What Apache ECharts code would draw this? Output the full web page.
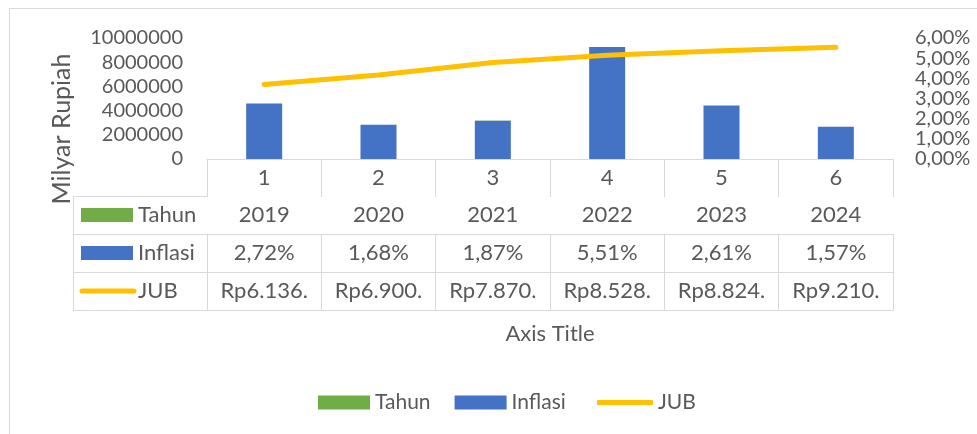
<!DOCTYPE html>
<html>
<head>
<meta charset="utf-8">
<script src="https://cdn.jsdelivr.net/npm/echarts@6/dist/echarts.min.js"></script>
<style>
  html, body { margin: 0; padding: 0; background: #fff; }
  #chart { width: 977px; height: 434px; }
</style>
</head>
<body>
<div id="chart"></div>
<script>
// data
var categories = ["1", "2", "3", "4", "5", "6"];
var tahun = [2019, 2020, 2021, 2022, 2023, 2024];
var inflasiText = ["2,72%", "1,68%", "1,87%", "5,51%", "2,61%", "1,57%"];
var jubText = ["Rp6.136.", "Rp6.900.", "Rp7.870.", "Rp8.528.", "Rp8.824.", "Rp9.210."];
var inflasiBar = [4580000, 2830000, 3170000, 9250000, 4420000, 2670000];
var jubLine = [3.70, 4.16, 4.79, 5.15, 5.37, 5.54];

var FONT = "Lato";
var TXT = "#595959";
var GRID = "#d9d9d9";
var GREEN = "#70ad47";
var BLUE = "#4472c4";
var GOLD = "#ffc000";

var chartDom = echarts.init(document.getElementById("chart"));

var rowTop = [159, 196, 234, 272, 310];
var rowNames = ["Tahun", "Inflasi", "JUB"];

function tableAxis(data, offset, len) {
  return {
    type: "category",
    gridIndex: 0,
    position: "bottom",
    offset: offset,
    data: data,
    axisLine: { show: true, lineStyle: { color: GRID, width: 1 } },
    axisTick: { show: len > 0, length: len, lineStyle: { color: GRID, width: 1 } },
    axisLabel: {
      show: data.length > 0,
      interval: 0,
      margin: len / 2,
      verticalAlign: "middle",
      color: TXT,
      fontSize: 22,
      fontFamily: FONT
    }
  };
}

// border, rotated axis name and the left column of the data table
var graphics = [
  {
    type: "rect",
    shape: { x: 9.5, y: 8.5, width: 1000, height: 500 },
    style: { fill: null, stroke: GRID, lineWidth: 1 },
    silent: true
  },
  {
    type: "text",
    x: 62, y: 129,
    rotation: Math.PI / 2,
    style: { text: "Milyar Rupiah", fill: TXT, font: "25px " + FONT, align: "center", verticalAlign: "middle" }
  },
  {
    type: "line",
    shape: { x1: 73.5, y1: rowTop[1], x2: 73.5, y2: rowTop[4] },
    style: { stroke: GRID, lineWidth: 1 }
  }
];
for (var r = 1; r <= 4; r++) {
  graphics.push({
    type: "line",
    shape: { x1: 73, y1: rowTop[r] + 0.5, x2: 207, y2: rowTop[r] + 0.5 },
    style: { stroke: GRID, lineWidth: 1 }
  });
}
var keyColors = [GREEN, BLUE, GOLD];
for (var k = 0; k < 3; k++) {
  var cy = (rowTop[k + 1] + rowTop[k + 2]) / 2;
  if (k < 2) {
    graphics.push({ type: "rect", shape: { x: 81, y: cy - 7, width: 52, height: 14 }, style: { fill: keyColors[k] } });
  } else {
    graphics.push({
      type: "line",
      shape: { x1: 82, y1: cy, x2: 134, y2: cy },
      style: { stroke: GOLD, lineWidth: 5, lineCap: "round" }
    });
  }
  graphics.push({
    type: "text",
    x: 138, y: cy,
    style: { text: rowNames[k], fill: TXT, font: "22px " + FONT, verticalAlign: "middle" }
  });
}

var legendText = { color: TXT, fontSize: 21, fontFamily: FONT };

var option = {
  animation: false,
  textStyle: { fontFamily: FONT },
  grid: { left: 207, right: 84, top: 38, bottom: 434 - 159 },
  legend: [
    {
      left: 313,
      top: 387,
      itemWidth: 52,
      itemHeight: 14,
      itemGap: 24,
      icon: "rect",
      data: ["Tahun", "Inflasi"],
      textStyle: legendText
    },
    {
      left: 592,
      top: 387,
      itemWidth: 56,
      itemHeight: 5,
      icon: "roundRect",
      data: ["JUB"],
      textStyle: legendText
    }
  ],
  xAxis: [
    tableAxis(categories, 0, 37),
    tableAxis(tahun, 37, 38),
    tableAxis(inflasiText, 75, 38),
    tableAxis(jubText, 113, 38),
    Object.assign(tableAxis([], 151, 0), {
      name: "Axis Title",
      nameLocation: "middle",
      nameGap: 13,
      nameTextStyle: { color: TXT, fontSize: 22, fontFamily: FONT }
    })
  ],
  yAxis: [
    {
      type: "value",
      min: 0,
      max: 10000000,
      interval: 2000000,
      splitLine: { show: false },
      axisLine: { show: false },
      axisTick: { show: false },
      axisLabel: {
        color: TXT, fontSize: 20, fontFamily: FONT, margin: 24,
        formatter: function (v) { return String(v); }
      }
    },
    {
      type: "value",
      position: "right",
      min: 0,
      max: 6,
      interval: 1,
      splitLine: { show: false },
      axisLine: { show: false },
      axisTick: { show: false },
      axisLabel: {
        color: TXT, fontSize: 20, fontFamily: FONT, margin: 22,
        formatter: function (v) { return v.toFixed(2).replace(".", ",") + "%"; }
      }
    }
  ],
  series: [
    {
      name: "Inflasi",
      type: "bar",
      stack: "s",
      xAxisIndex: 0,
      yAxisIndex: 0,
      barWidth: "31.5%",
      itemStyle: { color: BLUE },
      data: inflasiBar
    },
    {
      name: "Tahun",
      type: "bar",
      stack: "s",
      xAxisIndex: 0,
      yAxisIndex: 0,
      itemStyle: { color: GREEN },
      data: tahun
    },
    {
      name: "JUB",
      type: "line",
      xAxisIndex: 0,
      yAxisIndex: 1,
      symbol: "none",
      lineStyle: { color: GOLD, width: 5, cap: "round" },
      itemStyle: { color: GOLD },
      data: jubLine
    }
  ],
  graphic: graphics
};
chartDom.setOption(option);
</script>
</body>
</html>
